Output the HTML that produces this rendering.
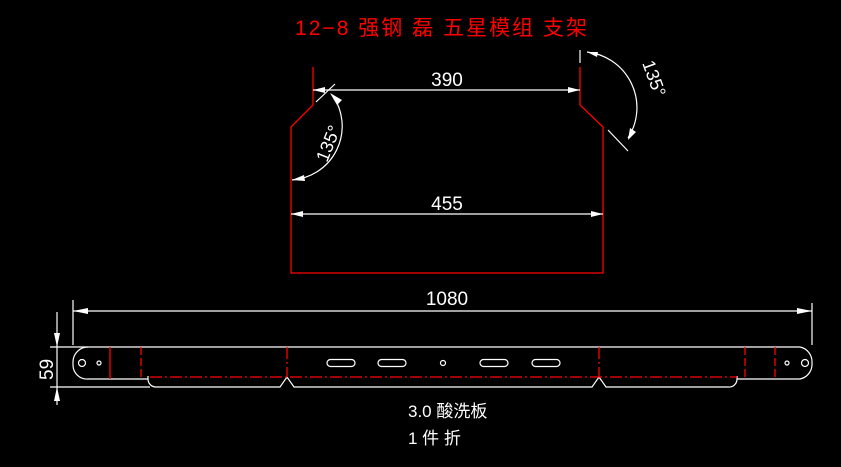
<!DOCTYPE html>
<html><head><meta charset="utf-8"><style>html,body{margin:0;padding:0;background:#000;width:841px;height:467px;overflow:hidden}</style></head>
<body>
<svg width="841" height="467" xmlns="http://www.w3.org/2000/svg" font-family="Liberation Sans, Noto Sans CJK SC, sans-serif">
<rect width="841" height="467" fill="#000"/>
<text x="295" y="35" fill="#f00" font-size="21" textLength="292" font-family="Liberation Sans, Noto Sans CJK SC, sans-serif">12−8 强钢 磊 五星模组 支架</text>
<!-- top shape -->
<g stroke="#f00" stroke-width="1.3" fill="none">
<polyline points="313,67 313,105 291,127 291,273 603,273 603,127 580,105 580,67"/>
</g>
<g stroke="#fff" stroke-width="1.2" fill="none">
<line x1="580" y1="50" x2="580" y2="63"/>
<line x1="313" y1="90" x2="580" y2="90"/>
<line x1="291" y1="214" x2="603" y2="214"/>
<line x1="316" y1="102" x2="335" y2="84"/>
<path d="M333,96 A54,54 0 0 1 292,180"/>
<path d="M587,52 A56,56 0 0 1 628,138"/>
<line x1="608" y1="130" x2="628" y2="151"/>
</g>
<g fill="#fff">
<polygon points="313,90 325,87 325,93"/><polygon points="580,90 568,87 568,93"/>
<polygon points="291,214 303,211 303,217"/><polygon points="603,214 591,211 591,217"/>
<polygon points="330,93 342,100 337,105"/><polygon points="292,180 304,175 305,181"/>
<polygon points="587,52 598,52 597,57"/><polygon points="628,140 630,128 636,132"/>
</g>
<text x="447" y="86" fill="#fff" font-size="19" text-anchor="middle">390</text>
<text x="447" y="210" fill="#fff" font-size="19" text-anchor="middle">455</text>
<text x="0" y="0" fill="#fff" font-size="18" transform="translate(327,163) rotate(-68)">135°</text>
<text x="0" y="0" fill="#fff" font-size="18" transform="translate(642,63) rotate(70)">135°</text>
<!-- bottom part -->
<g stroke="#fff" stroke-width="1.2" fill="none">
<line x1="73" y1="300" x2="73" y2="345"/>
<line x1="812" y1="303" x2="812" y2="345"/>
<line x1="73" y1="311" x2="812" y2="311"/>
<line x1="50" y1="347" x2="800" y2="347"/>
<line x1="50" y1="387" x2="150" y2="387"/>
<line x1="57" y1="312" x2="57" y2="405"/>
<path d="M88,347 A15,15 0 0 0 73,362 L73,365 A14,14 0 0 0 88,379 L148,379"/>
<path d="M148,376 L148,379 A8,8 0 0 0 155,387 L280,387 L287,377 L294,387 L592,387 L599,377 L606,387 L728,387 A8,8 0 0 0 737,379 L737,376"/>
<path d="M737,379 L800,379 A15,15 0 0 0 812,365 L812,362 A15,15 0 0 0 800,347"/>
<circle cx="82" cy="363" r="3.5"/><circle cx="99" cy="363" r="2"/>
<circle cx="805" cy="363" r="3.5"/><circle cx="787" cy="363" r="2"/>
<circle cx="443" cy="363" r="2.5"/>
<rect x="327" y="359.5" width="28" height="7" rx="3.5"/>
<rect x="378" y="359.5" width="28" height="7" rx="3.5"/>
<rect x="480" y="359.5" width="28" height="7" rx="3.5"/>
<rect x="532" y="359.5" width="28" height="7" rx="3.5"/>
</g>
<g fill="#fff">
<polygon points="73,311 88,308 88,314"/><polygon points="812,311 797,308 797,314"/>
<polygon points="57,347 54,333 60,333"/><polygon points="57,387 54,401 60,401"/>
</g>
<g stroke="#f00" stroke-width="1.3" fill="none">
<line x1="110" y1="347" x2="110" y2="379"/>
<line x1="141" y1="347" x2="141" y2="379" stroke-dasharray="8,3"/>
<line x1="150" y1="377" x2="737" y2="377" stroke-dasharray="12,3,2,3"/>
<line x1="287" y1="347" x2="287" y2="377" stroke-dasharray="12,3,2,3"/>
<line x1="599" y1="347" x2="599" y2="377" stroke-dasharray="12,3,2,3"/>
<line x1="745" y1="347" x2="745" y2="379" stroke-dasharray="8,3"/>
<line x1="775" y1="347" x2="775" y2="379" stroke-dasharray="8,3"/>
</g>
<text x="447" y="305" fill="#fff" font-size="19" text-anchor="middle">1080</text>
<text x="0" y="0" fill="#fff" font-size="19" transform="translate(53,380) rotate(-90)">59</text>
<text x="408" y="417" fill="#fff" font-size="17">3.0 酸洗板</text>
<text x="408" y="444" fill="#fff" font-size="17">1 件 折</text>
</svg>
</body></html>
